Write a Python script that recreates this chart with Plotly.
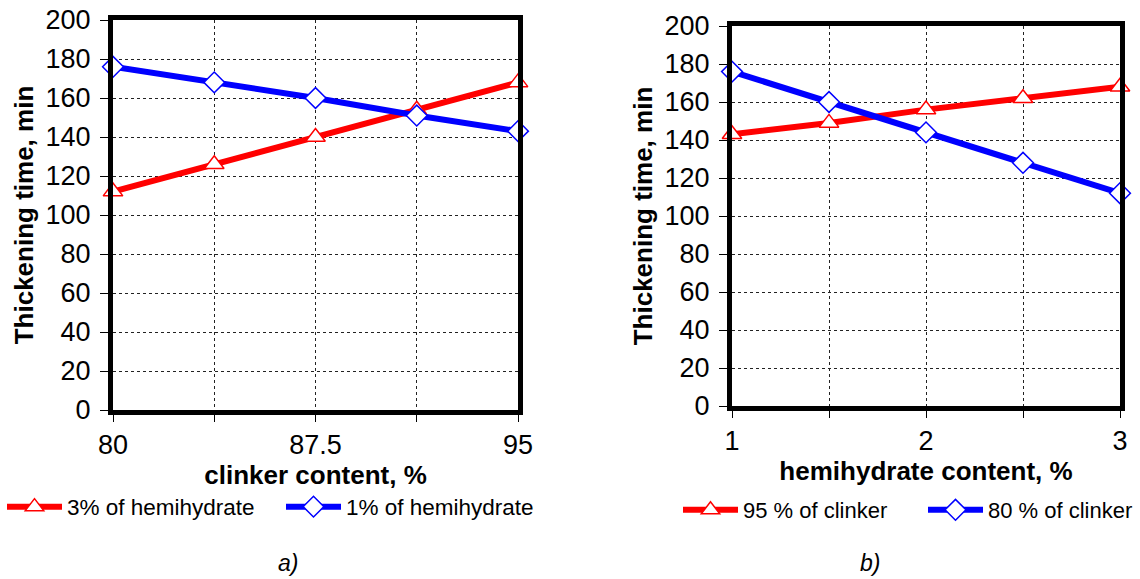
import plotly.graph_objects as go

# Panel a: thickening time vs clinker content
clinker = [80, 83.75, 87.5, 91.25, 95]
clinker_ticktext = ["80", "", "87.5", "", "95"]
hemi3_time = [112, 126, 140, 154, 168]
hemi1_time = [176, 168, 160, 151, 143]

# Panel b: thickening time vs hemihydrate content
hemihydrate = [1, 1.5, 2, 2.5, 3]
hemihydrate_ticktext = ["1", "", "2", "", "3"]
clinker95_time = [143, 149, 156, 162, 168]
clinker80_time = [176, 160, 144, 128, 112]

y_ticks = list(range(0, 201, 20))

RED = "#ff0000"
BLUE = "#0000ff"
FONT = "Liberation Sans, Arial, sans-serif"

W, H = 1140, 579


def px_x(v):
    return v / W


def px_y(v):
    return 1 - v / H


def red_trace(x, y, name, xa, ya, legend):
    return go.Scatter(
        x=x, y=y, name=name, mode="lines+markers", xaxis=xa, yaxis=ya,
        legend=legend, cliponaxis=False,
        line=dict(color=RED, width=6),
        marker=dict(symbol="triangle-up", size=17, color="white",
                    line=dict(color=RED, width=1.5)),
    )


def blue_trace(x, y, name, xa, ya, legend):
    return go.Scatter(
        x=x, y=y, name=name, mode="lines+markers", xaxis=xa, yaxis=ya,
        legend=legend, cliponaxis=False,
        line=dict(color=BLUE, width=6),
        marker=dict(symbol="diamond", size=16, color="white",
                    line=dict(color=BLUE, width=1.5)),
    )


fig = go.Figure()
fig.add_trace(red_trace(clinker, hemi3_time, "3% of hemihydrate", "x", "y", "legend"))
fig.add_trace(blue_trace(clinker, hemi1_time, "1% of hemihydrate", "x", "y", "legend"))
fig.add_trace(red_trace(hemihydrate, clinker95_time, "95 % of clinker", "x2", "y2", "legend2"))
fig.add_trace(blue_trace(hemihydrate, clinker80_time, "80 % of clinker", "x2", "y2", "legend2"))

tick_font = dict(family=FONT, size=27, color="black")
title_font = dict(family=FONT, size=26, color="black", weight="bold")

common_x = dict(
    showline=True, linewidth=5, linecolor="black", mirror=True,
    ticks="outside", ticklen=7, tickwidth=1, tickcolor="black",
    showgrid=True, gridcolor="#222222", gridwidth=1, griddash="dot",
    zeroline=False, tickfont=tick_font, title_font=title_font,
    automargin=False,
)
common_y = dict(
    showline=True, linewidth=5, linecolor="black", mirror=True,
    ticks="outside", ticklen=8, tickwidth=1, tickcolor="black",
    showgrid=True, gridcolor="#222222", gridwidth=1, griddash="dot",
    zeroline=False, tickfont=tick_font, title_font=title_font,
    range=[0, 200], tickvals=y_ticks, automargin=False,
    ticklabelstandoff=4,
)

legend_font = dict(family=FONT, size=22.5, color="black")
legend2_font = dict(family=FONT, size=22, color="black")

fig.update_layout(
    width=W, height=H,
    margin=dict(l=0, r=0, t=0, b=0, autoexpand=False),
    paper_bgcolor="white", plot_bgcolor="white",
    font=dict(family=FONT, color="black"),
    xaxis=dict(common_x, domain=[px_x(113), px_x(518)], range=[80, 95],
               tickvals=clinker, ticktext=clinker_ticktext, anchor="y",
               title=dict(text="clinker content, %", standoff=0)),
    yaxis=dict(common_y, domain=[px_y(410), px_y(20)], anchor="x",
               title=dict(text="Thickening time, min", standoff=6)),
    xaxis2=dict(common_x, domain=[px_x(732), px_x(1120)], range=[1, 3],
                tickvals=hemihydrate, ticktext=hemihydrate_ticktext, anchor="y2",
                title=dict(text="hemihydrate content, %", standoff=0)),
    yaxis2=dict(common_y, domain=[px_y(406), px_y(26)], anchor="x2",
                title=dict(text="Thickening time, min", standoff=6)),
    legend=dict(orientation="h", x=px_x(2), y=px_y(507), xanchor="left",
                yanchor="middle", itemwidth=55, entrywidth=209, tracegroupgap=0,
                font=legend_font, bgcolor="rgba(0,0,0,0)"),
    legend2=dict(orientation="h", x=px_x(678), y=px_y(510), xanchor="left",
                 yanchor="middle", itemwidth=55, entrywidth=175, tracegroupgap=0,
                 font=legend2_font, bgcolor="rgba(0,0,0,0)"),
    annotations=[
        dict(text="<i>a)</i>", x=px_x(288), y=px_y(563), xref="paper", yref="paper",
             xanchor="center", yanchor="middle", showarrow=False,
             font=dict(family=FONT, size=23, color="black")),
        dict(text="<i>b)</i>", x=px_x(870), y=px_y(563), xref="paper", yref="paper",
             xanchor="center", yanchor="middle", showarrow=False,
             font=dict(family=FONT, size=23, color="black")),
    ],
    showlegend=True,
)

fig.write_html("out.html")
